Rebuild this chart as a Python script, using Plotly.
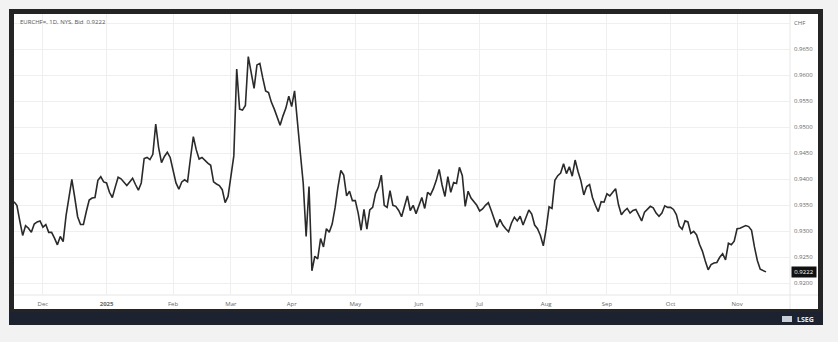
import pandas as pd
import plotly.graph_objects as go

# ---- data (daily EURCHF bid) ----
start_date = "2024-11-18"
eurchf = [
    0.9357, 0.9350, 0.9320, 0.9292, 0.9311, 0.9306, 0.9298, 0.9314, 0.9318, 0.9320,
    0.9308, 0.9313, 0.9298, 0.9298, 0.9287, 0.9274, 0.9290, 0.9280, 0.9330, 0.9368,
    0.9400, 0.9365, 0.9328, 0.9313, 0.9313, 0.9338, 0.9360, 0.9364, 0.9365, 0.9398,
    0.9405, 0.9395, 0.9393, 0.9375, 0.9365, 0.9385, 0.9404, 0.9401, 0.9394, 0.9388,
    0.9395, 0.9402, 0.9390, 0.9379, 0.9393, 0.9440, 0.9442, 0.9438, 0.9448, 0.9506,
    0.9461, 0.9432, 0.9444, 0.9452, 0.9442, 0.9419, 0.9393, 0.9381, 0.9395, 0.9399,
    0.9395, 0.9440, 0.9482, 0.9457, 0.9439, 0.9442, 0.9436, 0.9431, 0.9427, 0.9395,
    0.9391, 0.9388, 0.9380, 0.9355, 0.9367, 0.9405, 0.9445, 0.9612, 0.9535, 0.9533,
    0.9542, 0.9636, 0.9605, 0.9575, 0.9620, 0.9623, 0.9595, 0.9570, 0.9567, 0.9548,
    0.9535, 0.9520, 0.9504, 0.9522, 0.9537, 0.9560, 0.9540, 0.9570, 0.9505, 0.9450,
    0.9392, 0.9290, 0.9386, 0.9224, 0.9252, 0.9247, 0.9286, 0.9270, 0.9305, 0.9298,
    0.9314, 0.9345, 0.9385, 0.9417, 0.9408, 0.9368, 0.9377, 0.9359, 0.9359, 0.9335,
    0.9302, 0.9342, 0.9304, 0.9341, 0.9346, 0.9373, 0.9385, 0.9408, 0.9350, 0.9346,
    0.9378, 0.9350, 0.9348, 0.9340, 0.9328, 0.9348, 0.9368, 0.9340, 0.9350, 0.9334,
    0.9350, 0.9365, 0.9344, 0.9375, 0.9370, 0.9382, 0.9398, 0.9419, 0.9389, 0.9367,
    0.9405, 0.9375, 0.9394, 0.9392, 0.9423, 0.9407, 0.9348, 0.9377, 0.9364, 0.9358,
    0.9350, 0.9339, 0.9343, 0.9350, 0.9355, 0.9340, 0.9323, 0.9308, 0.9323, 0.9312,
    0.9305, 0.9299, 0.9316, 0.9327, 0.9320, 0.9329, 0.9312, 0.9327, 0.9341, 0.9333,
    0.9312, 0.9305, 0.9292, 0.9272, 0.9305, 0.9347, 0.9344, 0.9398, 0.9407, 0.9412,
    0.9430, 0.9411, 0.9424, 0.9406, 0.9437, 0.9415, 0.9397, 0.9370, 0.9386, 0.9390,
    0.9365, 0.9350, 0.9338, 0.9357, 0.9356, 0.9372, 0.9368, 0.9375, 0.9382, 0.9351,
    0.9332, 0.9339, 0.9344, 0.9335, 0.9340, 0.9342, 0.9330, 0.9320, 0.9337, 0.9342,
    0.9348, 0.9345, 0.9335, 0.9329, 0.9335, 0.9349, 0.9346, 0.9346, 0.9342, 0.9332,
    0.9310, 0.9304, 0.9320, 0.9318, 0.9296, 0.9300, 0.9293, 0.9275, 0.9262, 0.9243,
    0.9226, 0.9236, 0.9239, 0.9240, 0.9250, 0.9257, 0.9245, 0.9277, 0.9274, 0.9281,
    0.9305, 0.9306, 0.9309, 0.9311, 0.9309, 0.9302, 0.9270, 0.9244, 0.9227, 0.9224,
    0.9222,
]
last_price = 0.9222

month_tick_dates = ["2024-12-02", "2025-01-01", "2025-02-03", "2025-03-03", "2025-04-01",
                    "2025-05-01", "2025-06-02", "2025-07-01", "2025-08-01", "2025-09-01",
                    "2025-10-01", "2025-11-03"]
month_tick_labels = ["Dec", "<b>2025</b>", "Feb", "Mar", "Apr", "May", "Jun", "Jul",
                     "Aug", "Sep", "Oct", "Nov"]
price_ticks = [0.9200, 0.9250, 0.9300, 0.9350, 0.9400, 0.9450, 0.9500, 0.9550,
               0.9600, 0.9650, 0.9700]
price_tick_labels = [f"{v:.4f}" for v in price_ticks[:-1]] + ["CHF"]

dates = pd.bdate_range(start_date, periods=len(eurchf))

# ---- layout helpers (pixel -> paper) ----
W, H = 838, 342
L, R, T, B = 14, 790, 14, 295
def px(x):
    return (x - L) / (R - L)
def py(y):
    return (B - y) / (B - T)

FONT = "Open Sans"
fig = go.Figure()
fig.add_trace(go.Scatter(x=dates, y=eurchf, mode="lines",
                         line=dict(color="#2a2a2a", width=1.6),
                         hoverinfo="skip", showlegend=False))

shapes = [
    dict(type="rect", xref="paper", yref="paper", x0=px(9), x1=px(823), y0=py(9), y1=py(313),
         fillcolor="#242424", line=dict(width=0), layer="below"),
    dict(type="rect", xref="paper", yref="paper", x0=px(9), x1=px(823), y0=py(312), y1=py(325),
         fillcolor="#1d2230", line=dict(width=0), layer="below"),
    dict(type="rect", xref="paper", yref="paper", x0=px(14), x1=px(818), y0=py(14), y1=py(309),
         fillcolor="white", line=dict(width=0), layer="below"),
    dict(type="line", xref="paper", yref="paper", x0=px(790), x1=px(790), y0=py(14), y1=py(309),
         line=dict(color="#e6e6e6", width=1), layer="below"),
    dict(type="line", xref="paper", yref="paper", x0=px(14), x1=px(818), y0=py(295), y1=py(295),
         line=dict(color="#e6e6e6", width=1), layer="below"),
    # small logo glyph
    dict(type="rect", xref="paper", yref="paper", x0=px(782), x1=px(792), y0=py(316), y1=py(322),
         fillcolor="#c9cdd6", line=dict(width=0)),
]

annotations = [
    dict(text="EURCHF=, 1D, NYS, Bid  0.9222", xref="paper", yref="paper",
         x=px(18), y=py(22), xanchor="left", yanchor="middle", showarrow=False,
         font=dict(family=FONT, size=6, color="#555555")),
    dict(text=f"{last_price:.4f}", xref="paper", yref="y", x=px(791), y=last_price,
         xanchor="left", yanchor="middle", showarrow=False, bgcolor="#111111",
         borderpad=1, width=22, font=dict(family=FONT, size=6, color="white")),
    dict(text="<b>LSEG</b>", xref="paper", yref="paper", x=px(816), y=py(319),
         xanchor="right", yanchor="middle", showarrow=False,
         font=dict(family=FONT, size=7, color="#e8eaee")),
]

fig.update_layout(
    width=W, height=H,
    margin=dict(l=L, r=W - R, t=T, b=H - B, pad=0),
    paper_bgcolor="#f2f2f2", plot_bgcolor="white",
    shapes=shapes, annotations=annotations, showlegend=False,
    font=dict(family=FONT, size=6, color="#666666"),
    xaxis=dict(
        type="date",
        range=["2024-11-18", "2025-11-27 07:00"],
        rangebreaks=[dict(bounds=["sat", "mon"])],
        tickmode="array", tickvals=month_tick_dates, ticktext=month_tick_labels,
        showgrid=True, gridcolor="#efefef", gridwidth=1,
        zeroline=False, showline=False, ticks="", ticklabelstandoff=4,
        tickfont=dict(family=FONT, size=6, color="#666666"),
    ),
    yaxis=dict(
        side="right",
        range=[0.91775, 0.97179],
        tickmode="array", tickvals=price_ticks, ticktext=price_tick_labels,
        showgrid=True, gridcolor="#efefef", gridwidth=1,
        zeroline=False, showline=False, ticks="", ticklabelstandoff=3,
        tickfont=dict(family=FONT, size=6, color="#666666"),
    ),
)

fig.write_html("out.html")
